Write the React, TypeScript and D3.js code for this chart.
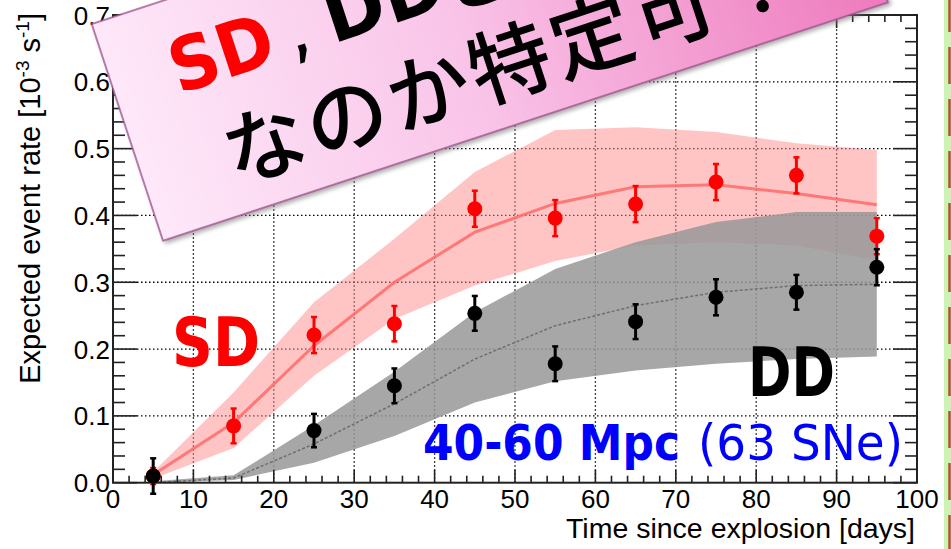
import React from 'react';
import * as d3 from 'd3';

// measured points (days since explosion)
const days = [5, 15, 25, 35, 45, 55, 65, 75, 85, 95];
const sdRate = [0.01, 0.085, 0.221, 0.238, 0.41, 0.396, 0.417, 0.45, 0.46, 0.369];
const sdErr = [0.012, 0.026, 0.027, 0.0265, 0.027, 0.027, 0.027, 0.027, 0.027, 0.027];
const ddRate = [0.01, null, 0.078, 0.145, 0.2535, 0.178, 0.241, 0.2775, 0.285, 0.3225];
const ddErr = [0.0265, 0, 0.025, 0.026, 0.026, 0.026, 0.026, 0.027, 0.026, 0.027];

// model bands
const bandDays = [5, 15, 25, 35, 45, 55, 65, 75, 85, 95];
const sdMid = [0.012, 0.09, 0.205, 0.3, 0.375, 0.418, 0.443, 0.446, 0.433, 0.416];
const sdHigh = [0.016, 0.135, 0.27, 0.365, 0.465, 0.528, 0.532, 0.525, 0.508, 0.498];
const sdLow = [0.006, 0.052, 0.16, 0.245, 0.295, 0.332, 0.355, 0.36, 0.355, 0.333];
const ddMid = [0.0, 0.007, 0.058, 0.118, 0.185, 0.235, 0.265, 0.285, 0.295, 0.297];
const ddHigh = [0.002, 0.011, 0.086, 0.166, 0.255, 0.32, 0.36, 0.39, 0.405, 0.405];
const ddLow = [0.0, 0.004, 0.03, 0.07, 0.12, 0.152, 0.168, 0.178, 0.185, 0.189];

const xTickLabels = ['0', '10', '20', '30', '40', '50', '60', '70', '80', '90', '100'];
const yTickLabels = ['0.0', '0.1', '0.2', '0.3', '0.4', '0.5', '0.6', '0.7'];

const sans = 'Liberation Sans, Arial, sans-serif';
const comic = 'DejaVu Sans, sans-serif';

export default function App() {
  const x = d3.scaleLinear().domain([0, 100]).range([113, 917]);
  const y = d3.scaleLinear().domain([0, 0.7]).range([482.7, 15]);

  const band = (lo: number[], hi: number[]) =>
    d3.area<number>()
      .x((d) => x(bandDays[d]))
      .y0((d) => y(lo[d]))
      .y1((d) => y(hi[d]))(d3.range(bandDays.length)) || '';
  const mid = (m: number[]) =>
    d3.line<number>()
      .x((d) => x(bandDays[d]))
      .y((d) => y(m[d]))(d3.range(bandDays.length)) || '';

  const xMinor = d3.range(0, 100.001, 2);
  const yMinor = d3.range(0, 0.7001, 0.02);

  const points = (vals: (number | null)[], errs: number[], color: string) =>
    vals.map((v, i) =>
      v === null ? null : (
        <g key={i}>
          <line x1={x(days[i])} x2={x(days[i])} y1={y(v - errs[i])} y2={y(v + errs[i])} stroke={color} strokeWidth={3} />
          <line x1={x(days[i]) - 3} x2={x(days[i]) + 3} y1={y(v - errs[i])} y2={y(v - errs[i])} stroke={color} strokeWidth={2.5} />
          <line x1={x(days[i]) - 3} x2={x(days[i]) + 3} y1={y(v + errs[i])} y2={y(v + errs[i])} stroke={color} strokeWidth={2.5} />
          <circle cx={x(days[i])} cy={y(v)} r={7.5} fill={color} />
        </g>
      )
    );

  return (
    <svg width={951} height={549} style={{ position: 'absolute', left: 0, top: 0, background: '#fff' }}>
      <defs>
        <linearGradient id="pinkGrad" x1="0" y1="0" x2="1" y2="0">
          <stop offset="0" stopColor="#fee8f9" />
          <stop offset="0.45" stopColor="#f9c4e8" />
          <stop offset="1" stopColor="#ee7abd" />
        </linearGradient>
        <filter id="shadow" x="-10%" y="-10%" width="120%" height="130%">
          <feDropShadow dx="2" dy="3" stdDeviation="2" floodColor="#777" floodOpacity="0.6" />
        </filter>
      </defs>

      {/* grid */}
      {xTickLabels.slice(1, -1).map((t) => (
        <line key={'gx' + t} x1={x(+t)} x2={x(+t)} y1={y(0)} y2={y(0.7)} stroke="#000" strokeWidth={1.3} strokeDasharray="1.5 2.5" />
      ))}
      {yTickLabels.slice(1, -1).map((t) => (
        <line key={'gy' + t} x1={x(0)} x2={x(100)} y1={y(+t)} y2={y(+t)} stroke="#000" strokeWidth={1.3} strokeDasharray="1.5 2.5" />
      ))}

      {/* model bands */}
      <path d={band(sdLow, sdHigh)} fill="#ff8c8c" fillOpacity={0.5} />
      <path d={mid(sdMid)} fill="none" stroke="#ff6a6a" strokeWidth={3} strokeOpacity={0.85} />
      <path d={band(ddLow, ddHigh)} fill="#989898" fillOpacity={0.85} />
      <path d={mid(ddMid)} fill="none" stroke="#6e6e6e" strokeWidth={1.5} strokeDasharray="3 2" />

      {/* frame + ticks */}
      <rect x={x(0)} y={y(0.7)} width={x(100) - x(0)} height={y(0) - y(0.7)} fill="none" stroke="#222" strokeWidth={2} />
      {xMinor.map((v, i) => {
        const len = i % 5 === 0 ? 13 : 7;
        return (
          <g key={'xt' + i}>
            <line x1={x(v)} x2={x(v)} y1={y(0)} y2={y(0) - len} stroke="#222" strokeWidth={1.6} />
            <line x1={x(v)} x2={x(v)} y1={y(0.7)} y2={y(0.7) + len} stroke="#222" strokeWidth={1.6} />
          </g>
        );
      })}
      {yMinor.map((v, i) => {
        const len = i % 5 === 0 ? 24 : 12;
        return (
          <g key={'yt' + i}>
            <line x1={x(0)} x2={x(0) + len} y1={y(v)} y2={y(v)} stroke="#222" strokeWidth={1.6} />
            <line x1={x(100)} x2={x(100) - len} y1={y(v)} y2={y(v)} stroke="#222" strokeWidth={1.6} />
          </g>
        );
      })}

      {/* tick labels */}
      {xTickLabels.map((t) => (
        <text key={'xl' + t} x={x(+t)} y={508} textAnchor="middle" fontFamily={sans} fontSize={26}>{t}</text>
      ))}
      {yTickLabels.map((t) => (
        <text key={'yl' + t} x={110} y={y(+t) + 9.5} textAnchor="end" fontFamily={sans} fontSize={26}>{t}</text>
      ))}

      {/* axis titles */}
      <text x={915} y={538} textAnchor="end" fontFamily={sans} fontSize={28.5}>Time since explosion [days]</text>
      <text transform="translate(40,13) rotate(-90)" textAnchor="end" fontFamily={sans} fontSize={29}>
        Expected event rate [10<tspan fontSize={19} dy={-11}>-3</tspan><tspan dy={11}> s</tspan><tspan fontSize={19} dy={-11}>-1</tspan><tspan dy={11}>]</tspan>
      </text>

      {/* data points */}
      {points(sdRate, sdErr, '#ff0000')}
      {points(ddRate, ddErr, '#000000')}

      {/* annotations */}
      <text x={172} y={366} fontFamily={comic} fontWeight="bold" fontSize={68} fill="#ff0000" textLength={88} lengthAdjust="spacingAndGlyphs">SD</text>
      <text x={748} y={396} fontFamily={comic} fontWeight="bold" fontSize={68} fill="#000" textLength={87} lengthAdjust="spacingAndGlyphs">DD</text>
      <text x={423} y={460} fontFamily={comic} fontWeight="bold" fontSize={50} fill="#0000ff" textLength={257} lengthAdjust="spacingAndGlyphs">40-60 Mpc</text>
      <text x={698} y={460} fontFamily={comic} fontSize={50} fill="#0000ff" textLength={205} lengthAdjust="spacingAndGlyphs">(63 SNe)</text>

      {/* pink callout */}
      <g transform="translate(163,240.7) rotate(-18.2)">
        <rect x={0} y={-228} width={763} height={228} fill="url(#pinkGrad)" stroke="#a0508f" strokeWidth={1.5} filter="url(#shadow)" />
        <text x={61} y={-134} fontFamily={comic} fontWeight="bold" fontSize={74} fill="#ff0000" textLength={106} lengthAdjust="spacingAndGlyphs">SD</text>
        <text x={180} y={-134} fontFamily={comic} fontSize={74} fill="#000">,</text>
        <text x={223} y={-134} fontFamily={comic} fontWeight="bold" fontSize={74} fill="#000">DDどちら</text>
        <text x={86} y={-30} fontFamily="Noto Sans CJK JP, sans-serif" fontWeight={500} fontSize={82} letterSpacing={4} fill="#000">なのか特定可！</text>
      </g>

      {/* slide edge strip */}
      <rect x={944} y={0} width={7} height={549} fill="#cdf3b2" />
      <line x1={949.5} x2={949.5} y1={0} y2={549} stroke="#b3532c" strokeWidth={2.5} strokeDasharray="37 15" strokeDashoffset={5} />
    </svg>
  );
}
